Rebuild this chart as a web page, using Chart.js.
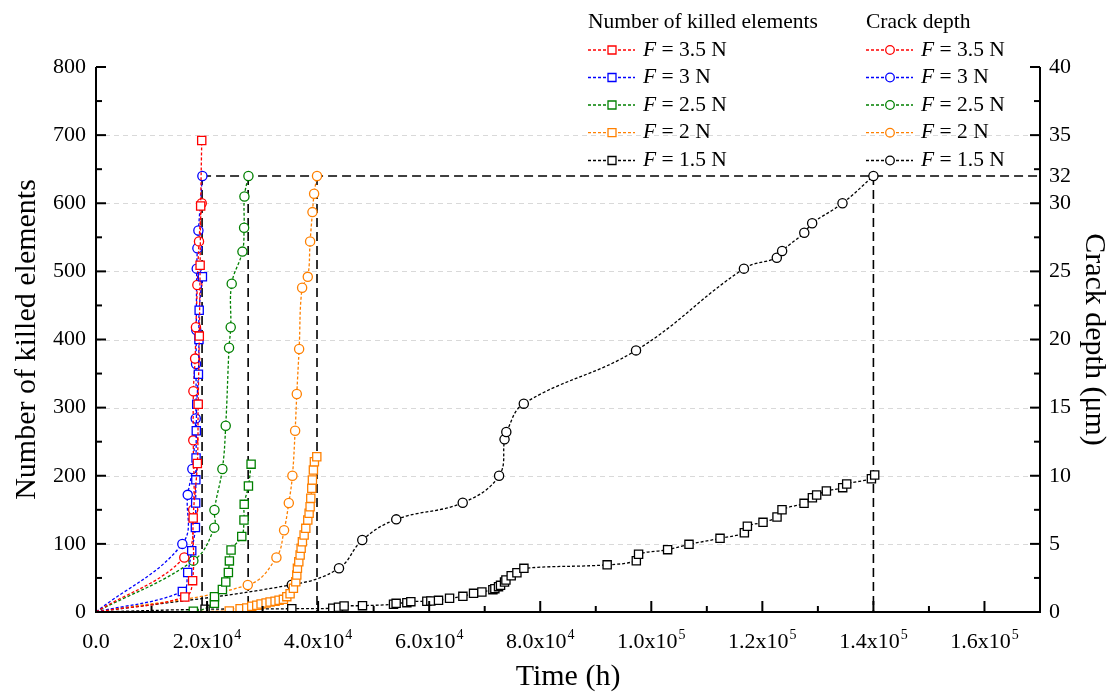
<!DOCTYPE html>
<html lang="en">
<head>
<meta charset="UTF-8" />
<title>Killed elements and crack depth</title>
<style>
  body { margin: 0; background: #fff; }
  #chart { display: block; }
</style>
</head>
<body>
<canvas id="chart" width="1116" height="695"></canvas>
<script src="https://cdn.jsdelivr.net/npm/chart.js@4.4.0/dist/chart.umd.min.js"></script>
<script>
// ---- data ----
const forces = ["3.5", "3", "2.5", "2", "1.5"];

// F = 3.5 N
const f35KilledTime = [0, 16000, 17400, 17500, 18250, 18400, 18600, 18750, 18850, 19040];
const f35KilledValue = [0, 22, 46, 138, 218, 305, 405, 509, 596, 692];
const f35DepthTime = [0, 15900, 17500, 17520, 17540, 17850, 18000, 18250, 18550, 19040];
const f35DepthValue = [0, 4.0, 7.5, 12.6, 16.2, 18.6, 20.9, 24.0, 27.2, 30.0];

// F = 3 N
const f3KilledTime = [0, 15550, 16520, 17240, 17900, 17950, 17980, 18020, 18060, 18140, 18440, 18540, 18580, 19160];
const f3KilledValue = [0, 30, 58, 90, 124, 160, 194, 226, 266, 305, 349, 400, 443, 492];
const f3DepthTime = [0, 15550, 16520, 17350, 17960, 18020, 18060, 18140, 18260, 18440, 19160];
const f3DepthValue = [0, 5.0, 8.6, 10.5, 14.2, 18.2, 20.7, 25.2, 26.7, 28.0, 32.0];

// F = 2.5 N
const f25KilledTime = [0, 17530, 21320, 21340, 22760, 23370, 23840, 24020, 24320, 26250, 26650, 26690, 27450, 27930];
const f25KilledValue = [0, 1, 12.7, 22.5, 33, 44, 58, 75, 91, 111, 135, 158, 185, 217];
const f25DepthTime = [0, 17530, 21300, 21330, 22760, 23360, 23960, 24260, 24440, 26370, 26670, 26730, 27450];
const f25DepthValue = [0, 3.77, 6.19, 7.49, 10.5, 13.67, 19.4, 20.9, 24.1, 26.45, 28.2, 30.5, 32];

// F = 2 N
const f2KilledTime = [0, 24000, 25950, 27150, 28050, 28950, 29730, 30630, 31350, 32250, 32970, 33750, 34360,
  34950, 35550, 35980, 36160, 36270, 36520, 36760, 36940, 37170, 37480, 37780, 38140, 38380, 38560, 38680,
  38860, 38970, 39150, 39330, 39760];
const f2KilledValue = [0, 1.5, 4.8, 5.9, 8.4, 9.8, 11.7, 13.2, 14.7, 15.7, 17.2, 18.6, 22.5,
  26.9, 34.8, 44.5, 54.3, 64.1, 73.8, 83.7, 93.5, 103.2, 113, 122.8, 135, 144.9, 154.6, 166.9,
  181.6, 193.8, 208.4, 220.6, 228];
const f2DepthTime = [0, 27330, 32490, 33870, 34720, 35370, 35860, 36160, 36580, 37120, 38140, 38560, 38980, 39280, 39800];
const f2DepthValue = [0, 1.98, 4.0, 6.0, 8.0, 10.0, 13.3, 16.0, 19.3, 23.8, 24.6, 27.2, 29.35, 30.7, 32];

// F = 1.5 N
const f15KilledTime = [0, 19640, 35260, 42640, 43660, 44680, 47990, 53580, 54050, 55980, 56700, 59580, 60300,
  61680, 63670, 66070, 67990, 69490, 71470, 71830, 72490, 72850, 73570, 73820, 74770, 75800, 77060, 92050,
  97300, 97710, 102940, 106790, 112380, 116760, 117300, 120120, 122640, 123540, 127510, 129010, 129780,
  131530, 134470, 135190, 139640, 140230];
const f15KilledValue = [0, 4, 4.8, 5.4, 6.9, 8.8, 9.3, 11.3, 12.7, 13.7, 15.2, 15.7, 16.1,
  17.1, 20.1, 23, 27.4, 29.4, 32.8, 34.3, 37.2, 39.1, 44, 47, 53.3, 57.7, 64.1, 69.2,
  75.3, 84.7, 91.5, 99.3, 108.1, 116.4, 125.8, 131.6, 139.4, 150.2, 159.5, 167.8, 171.7,
  177.6, 182.5, 187.9, 195.7, 201.1];
const f15DepthTime = [0, 35260, 43760, 47950, 54070, 66040, 72590, 73570, 73890, 77040, 97250, 116680,
  122600, 123560, 127550, 128970, 134430, 140000];
const f15DepthValue = [0, 2.0, 3.21, 5.28, 6.8, 8.02, 10.0, 12.67, 13.21, 15.29, 19.2, 25.2,
  26.0, 26.5, 27.84, 28.53, 30.0, 32];

// dashed guide lines (failure times at 32 um)
const guideTimes = [19100, 27400, 39800, 140000];
const guideDepth = 32;

// axes
const timeMax = 170000;
const xTickValues = [0, 20000, 40000, 60000, 80000, 100000, 120000, 140000, 160000];
const xTickBase = ["0.0", "2.0x10", "4.0x10", "6.0x10", "8.0x10", "1.0x10", "1.2x10", "1.4x10", "1.6x10"];
const xTickExp = ["", "4", "4", "4", "4", "5", "5", "5", "5"];
const killedMax = 800;
const depthMax = 40;

// ---- styling ----
const FONT = "'Liberation Serif', 'Times New Roman', serif";
const colors = ["#ff0000", "#0000ff", "#008000", "#ff8000", "#000000"];

const killedSets = [
  [f35KilledTime, f35KilledValue], [f3KilledTime, f3KilledValue], [f25KilledTime, f25KilledValue],
  [f2KilledTime, f2KilledValue], [f15KilledTime, f15KilledValue]
];
const depthSets = [
  [f35DepthTime, f35DepthValue], [f3DepthTime, f3DepthValue], [f25DepthTime, f25DepthValue],
  [f2DepthTime, f2DepthValue], [f15DepthTime, f15DepthValue]
];

const toPoints = (t, v) => t.map((x, i) => ({ x: x, y: v[i] }));

function seriesSet(label, pts, color, style, axis) {
  const r = style === "rect" ? 5.8 : 4.6;
  return {
    label: label,
    data: pts,
    yAxisID: axis,
    borderColor: color,
    backgroundColor: "#fff",
    borderWidth: 1.3,
    borderDash: [3, 2],
    pointStyle: style,
    pointRadius: c => (c.dataIndex === 0 ? 0 : r),
    pointBorderColor: color,
    pointBackgroundColor: "#fff",
    pointBorderWidth: 1.3,
    tension: 0.4,
    order: 1
  };
}

const datasets = [];

// guide lines drawn underneath
const guideStyle = { borderColor: "#000", borderWidth: 1.6, borderDash: [9, 5], pointRadius: 0, tension: 0, yAxisID: "y2", order: 5 };
datasets.push(Object.assign({ label: "guide-h", data: [{ x: guideTimes[0], y: guideDepth }, { x: timeMax, y: guideDepth }] }, guideStyle));
guideTimes.forEach((t, i) => {
  datasets.push(Object.assign({ label: "guide-v" + i, data: [{ x: t, y: guideDepth }, { x: t, y: 0 }] }, guideStyle));
});

killedSets.forEach((s, i) => datasets.push(seriesSet("Killed F=" + forces[i], toPoints(s[0], s[1]), colors[i], "rect", "y")));
depthSets.forEach((s, i) => datasets.push(seriesSet("Depth F=" + forces[i], toPoints(s[0], s[1]), colors[i], "circle", "y2")));

// ---- axes, ticks, legend ----
const decor = {
  id: "decor",
  beforeDatasetsDraw(chart) {
    const { ctx, chartArea: a, scales } = chart;
    ctx.save();
    ctx.strokeStyle = "#d9d9d9";
    ctx.lineWidth = 1;
    ctx.setLineDash([5, 4]);
    for (let v = 100; v < killedMax; v += 100) {
      const py = Math.round(scales.y.getPixelForValue(v)) + 0.5;
      ctx.beginPath();
      ctx.moveTo(a.left, py);
      ctx.lineTo(a.right, py);
      ctx.stroke();
    }
    ctx.restore();
  },
  afterDatasetsDraw(chart) {
    const { ctx, chartArea: a, scales } = chart;
    const { x, y, y2 } = scales;
    ctx.save();
    ctx.strokeStyle = "#000";
    ctx.lineWidth = 2;
    ctx.setLineDash([]);
    ctx.beginPath();
    ctx.moveTo(a.left, a.top);
    ctx.lineTo(a.left, a.bottom);
    ctx.lineTo(a.right, a.bottom);
    ctx.lineTo(a.right, a.top);
    ctx.stroke();

    // inward ticks
    for (let v = 10000; v <= timeMax; v += 10000) {
      const px = x.getPixelForValue(v);
      const len = v % 20000 === 0 ? 11 : 6;
      ctx.beginPath();
      ctx.moveTo(px, a.bottom);
      ctx.lineTo(px, a.bottom - len);
      ctx.stroke();
    }
    for (let v = 50; v <= killedMax; v += 50) {
      const py = y.getPixelForValue(v);
      const len = v % 100 === 0 ? 10 : 6;
      ctx.beginPath();
      ctx.moveTo(a.left, py);
      ctx.lineTo(a.left + len, py);
      ctx.stroke();
    }
    for (let v = 2.5; v <= depthMax; v += 2.5) {
      const py = y2.getPixelForValue(v);
      const len = v % 5 === 0 ? 10 : 6;
      ctx.beginPath();
      ctx.moveTo(a.right, py);
      ctx.lineTo(a.right - len, py);
      ctx.stroke();
    }

    // x tick labels with superscript exponent
    const baseFont = "22px " + FONT;
    const expFont = "14px " + FONT;
    ctx.fillStyle = "#000";
    ctx.textAlign = "left";
    ctx.textBaseline = "alphabetic";
    const baseY = a.bottom + 36;
    xTickValues.forEach((v, i) => {
      const px = x.getPixelForValue(v);
      ctx.font = baseFont;
      const wb = ctx.measureText(xTickBase[i]).width;
      ctx.font = expFont;
      const we = xTickExp[i] ? ctx.measureText(xTickExp[i]).width + 1 : 0;
      const sx = px - (wb + we) / 2;
      ctx.font = baseFont;
      ctx.fillText(xTickBase[i], sx, baseY);
      if (xTickExp[i]) {
        ctx.font = expFont;
        ctx.fillText(xTickExp[i], sx + wb + 1, baseY - 9);
      }
    });
    ctx.restore();
  },
  afterDraw(chart) {
    const { ctx } = chart;
    const cols = [
      { x0: 588, title: "Number of killed elements", style: "rect" },
      { x0: 866, title: "Crack depth", style: "circle" }
    ];
    const rowY = [50, 77.5, 105, 132.7, 160.5];
    ctx.save();
    ctx.fillStyle = "#000";
    ctx.textBaseline = "middle";
    ctx.textAlign = "left";
    cols.forEach(col => {
      ctx.font = "21.5px " + FONT;
      ctx.fillText(col.title, col.x0, 22);
      forces.forEach((f, i) => {
        const yy = rowY[i];
        ctx.strokeStyle = colors[i];
        ctx.lineWidth = 1.3;
        ctx.setLineDash([3, 2]);
        ctx.beginPath();
        ctx.moveTo(col.x0, yy);
        ctx.lineTo(col.x0 + 47, yy);
        ctx.stroke();
        ctx.setLineDash([]);
        ctx.fillStyle = "#fff";
        const cx = col.x0 + 24;
        ctx.beginPath();
        if (col.style === "rect") {
          ctx.rect(cx - 4, yy - 4, 8, 8);
        } else {
          ctx.arc(cx, yy, 4.3, 0, Math.PI * 2);
        }
        ctx.fill();
        ctx.stroke();
        ctx.fillStyle = "#000";
        ctx.font = "italic 21.5px " + FONT;
        const tx = col.x0 + 55;
        ctx.fillText("F", tx, yy);
        const wf = ctx.measureText("F").width;
        ctx.font = "21.5px " + FONT;
        ctx.fillText(" = " + f + " N", tx + wf, yy);
      });
    });
    ctx.restore();
  }
};

const titleFont = { family: FONT, size: 30 };
const tickFont = { family: FONT, size: 22 };

new Chart(document.getElementById("chart"), {
  type: "line",
  data: { datasets: datasets },
  plugins: [decor],
  options: {
    responsive: false,
    animation: false,
    layout: { padding: { top: 67, left: 0, right: 0, bottom: 0 } },
    plugins: { legend: { display: false }, tooltip: { enabled: false } },
    scales: {
      x: {
        type: "linear",
        min: 0,
        max: timeMax,
        grid: { display: false, drawTicks: false },
        border: { display: false },
        ticks: { display: false },
        title: { display: true, text: "Time (h)", color: "#000", font: titleFont, padding: { top: 0, bottom: 0 } },
        afterFit: s => { s.height = 83; }
      },
      y: {
        type: "linear",
        position: "left",
        min: 0,
        max: killedMax,
        grid: { display: false, drawTicks: false },
        border: { display: false },
        ticks: { stepSize: 100, color: "#000", font: tickFont, padding: 10 },
        title: { display: true, text: "Number of killed elements", color: "#000", font: titleFont, padding: { top: 9 } },
        afterFit: s => { s.width = 96; }
      },
      y2: {
        type: "linear",
        position: "right",
        min: 0,
        max: depthMax,
        grid: { display: false, drawTicks: false },
        border: { display: false },
        afterBuildTicks: s => {
          s.ticks.push({ value: guideDepth });
          s.ticks.sort((p, q) => p.value - q.value);
        },
        ticks: { stepSize: 5, autoSkip: false, color: "#000", font: tickFont, padding: 9, callback: v => String(v) },
        title: { display: true, text: "Crack depth (μm)", color: "#000", font: titleFont, padding: { top: 4 } },
        afterFit: s => { s.width = 76; }
      }
    }
  }
});
</script>
</body>
</html>
